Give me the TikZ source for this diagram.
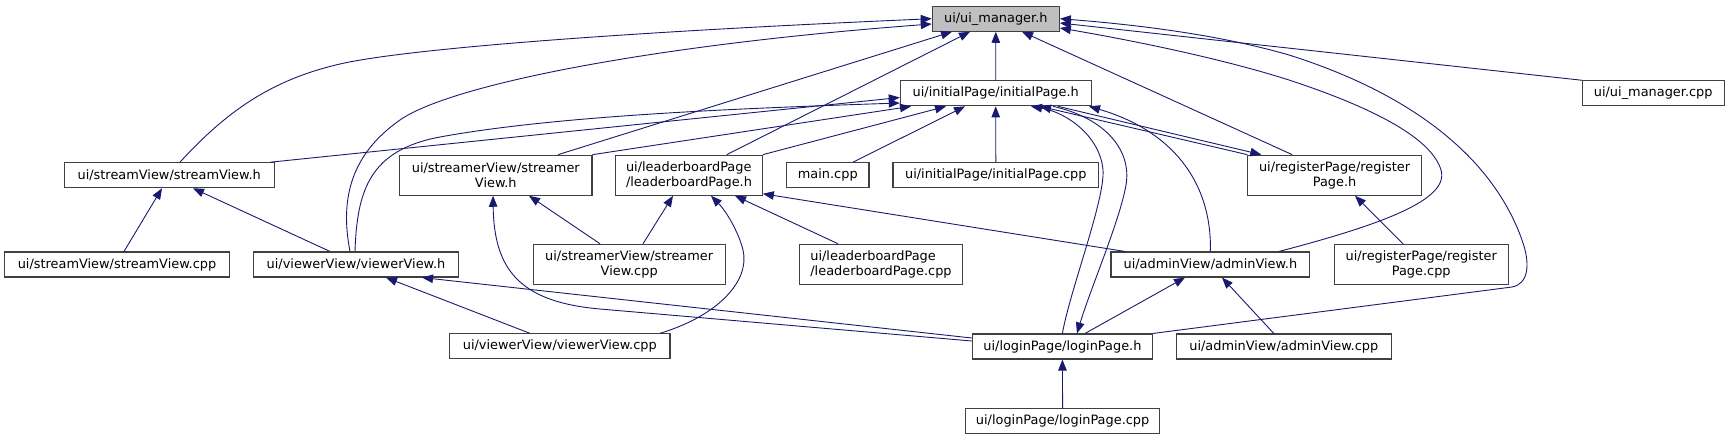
\documentclass[tikz,border=0pt]{standalone}
\usepackage{fontspec}
\usepackage{xcolor}
\usepackage{tikz}
\usetikzlibrary{arrows.meta}
\setmainfont{DejaVu Sans}
\definecolor{edgeblue}{HTML}{191970} % doxygen edge colour
\definecolor{boxgray}{HTML}{BFBFBF}
\definecolor{boxline}{HTML}{404040}
\def\boxh{25}
\def\boxhh{40}

\begin{document}
\begin{tikzpicture}[x=1pt, y=-1pt,
		file/.style={draw=boxline, line width=1.1pt, fill=white, inner sep=0pt,
			minimum width=#1pt, minimum height=\boxh pt, align=center,
			font=\fontsize{12.9}{15}\selectfont},
		file2/.style={file=#1, minimum height=\boxhh pt},
		dep/.style={draw=edgeblue, line width=0.9pt, -{Triangle[length=11pt, width=8.5pt]}}]
		\useasboundingbox (0,0) rectangle (1729,440);
		% files
		\node[file=127, fill=boxgray] (uimh) at (995.8,18.7) {ui/ui\_manager.h};
		\node[file=190.7] (inith) at (995.7,93.3) {ui/initialPage/initialPage.h};
		\node[file=141.7] (uimcpp) at (1653.2,93.3) {ui/ui\_manager.cpp};
		\node[file=209.7] (streamh) at (169.2,175.2) {ui/streamView/streamView.h};
		\node[file2=192.3] (streamerh) at (495.8,175.2) {ui/streamerView/streamer\\View.h};
		\node[file2=146.6, align=left] (leaderh) at (689,175.2) {ui/leaderboardPage\\/leaderboardPage.h};
		\node[file=82.3] (maincpp) at (827.8,175.2) {main.cpp};
		\node[file=205.7] (initcpp) at (995.8,175.2) {ui/initialPage/initialPage.cpp};
		\node[file2=173.5] (registerh) at (1334.6,175.2) {ui/registerPage/register\\Page.h};
		\node[file=224.6] (streamcpp) at (117,264.5) {ui/streamView/streamView.cpp};
		\node[file=205.3] (viewerh) at (356,264.5) {ui/viewerView/viewerView.h};
		\node[file2=192.3] (streamercpp) at (629.2,264.3) {ui/streamerView/streamer\\View.cpp};
		\node[file2=162.6, align=left] (leadercpp) at (881,264.3) {ui/leaderboardPage\\/leaderboardPage.cpp};
		\node[file=198.8] (adminh) at (1210.4,264.5) {ui/adminView/adminView.h};
		\node[file2=173.8] (registercpp) at (1421.2,264.3) {ui/registerPage/register\\Page.cpp};
		\node[file=220.3] (viewercpp) at (559.8,346.4) {ui/viewerView/viewerView.cpp};
		\node[file=180.2] (loginh) at (1062.4,346.5) {ui/loginPage/loginPage.h};
		\node[file=214.5] (admincpp) at (1283.8,346.5) {ui/adminView/adminView.cpp};
		\node[file=194.4] (logincpp) at (1062.6,421.4) {ui/loginPage/loginPage.cpp};

		% included by ui_manager.h
		\draw[dep] (inith.north) -- (uimh.south);
		\draw[dep] (uimcpp.north west) -- ([yshift=-4.3pt]uimh.east);
		\draw[dep] ([xshift=10.8pt]streamh.north) .. controls (225,113) and (270,80) .. (340,64)
			.. controls (400,50) and (600,33) .. (uimh.west);
		\draw[dep] ([xshift=-6pt]viewerh.north) .. controls (340,200) and (350,155) .. (400,120)
			.. controls (450,85) and (650,45) .. ([yshift=-5.3pt]uimh.west);
		\draw[dep] ([xshift=62.2pt]streamerh.north) -- ([xshift=-43.8pt]uimh.south);
		\draw[dep] ([xshift=37.7pt]leaderh.north) -- ([xshift=-25.8pt]uimh.south);
		\draw[dep] ([xshift=-42.4pt]registerh.north) -- ([xshift=26.2pt]uimh.south);
		\draw[dep] ([xshift=68.6pt]adminh.north) .. controls (1380,225) and (1450,200) .. (1441,170)
			.. controls (1432,140) and (1380,110) .. (1289,80)
			.. controls (1220,58) and (1130,40) .. ([yshift=-9.3pt]uimh.east);
		\draw[dep] (loginh.north east) -- (1512,287) .. controls (1528,284) and (1531,265) .. (1522,240)
			.. controls (1490,150) and (1400,90) .. (1289,55)
			.. controls (1220,35) and (1140,25) .. (uimh.east);

		% included by initialPage.h
		\draw[dep] ([xshift=-4pt]streamh.north east) -- ([yshift=-4.2pt]inith.west);
		\draw[dep] ([xshift=-1pt]viewerh.north) .. controls (357,190) and (370,150) .. (440,137)
			.. controls (560,115) and (750,108) .. ([yshift=-9.7pt]inith.west);
		\draw[dep] (streamerh.north east) -- ([xshift=-84.7pt]inith.south);
		\draw[dep] (leaderh.north east) -- ([xshift=-49.7pt]inith.south);
		\draw[dep] ([xshift=25.2pt]maincpp.north) -- ([xshift=-30.7pt]inith.south);
		\draw[dep] (initcpp.north) -- (inith.south);
		\draw[dep] (loginh.north) .. controls (1070,290) and (1105,200) .. (1103,170)
			.. controls (1100,135) and (1065,112) .. ([xshift=35.3pt]inith.south);
		\draw[dep] ([xshift=57.3pt]inith.south) .. controls (1105,118) and (1132,150) .. (1126,185)
			.. controls (1120,220) and (1090,290) .. ([xshift=14.6pt]loginh.north);
		\draw[dep] (registerh.north west) -- ([xshift=44.3pt]inith.south);
		\draw[dep] ([xshift=62.3pt]inith.south) -- ([xshift=14pt]registerh.north west);
		\draw[dep] (adminh.north) .. controls (1212,180) and (1170,130) .. ([xshift=93.3pt]inith.south);

		% lower levels
		\draw[dep] ([xshift=7pt]streamcpp.north) -- ([xshift=-7.2pt]streamh.south);
		\draw[dep] ([xshift=-26pt]viewerh.north) -- ([xshift=23.8pt]streamh.south);
		\draw[dep] ([xshift=-29.2pt]streamercpp.north) -- ([xshift=33.2pt]streamerh.south);
		\draw[dep] ([yshift=5.5pt]loginh.west) -- (600,309) .. controls (520,302) and (494,270)
			.. ([xshift=-2.8pt]streamerh.south);
		\draw[dep] ([xshift=13.8pt]streamercpp.north) -- ([xshift=-16pt]leaderh.south);
		\draw[dep] ([xshift=100.2pt]viewercpp.north) .. controls (720,315) and (750,280) .. (743,250)
			.. controls (738,230) and (725,210) .. ([xshift=22pt]leaderh.south);
		\draw[dep] ([xshift=-43pt]leadercpp.north) -- ([xshift=46pt]leaderh.south);
		\draw[dep] ([xshift=-85.4pt]adminh.north) -- ([yshift=2pt]leaderh.south east);
		\draw[dep] ([xshift=-29.8pt]viewercpp.north) -- ([xshift=30pt]viewerh.south);
		\draw[dep] ([yshift=8.5pt]loginh.west) -- ([xshift=66pt]viewerh.south);
		\draw[dep] ([xshift=-18.2pt]registercpp.north) -- ([xshift=20.4pt]registerh.south);
		\draw[dep] ([xshift=22.6pt]loginh.north) -- ([xshift=-25.4pt]adminh.south);
		\draw[dep] ([xshift=-10pt]admincpp.north) -- ([xshift=11.6pt]adminh.south);
		\draw[dep] (logincpp.north) -- (loginh.south);
\end{tikzpicture}
\end{document}
